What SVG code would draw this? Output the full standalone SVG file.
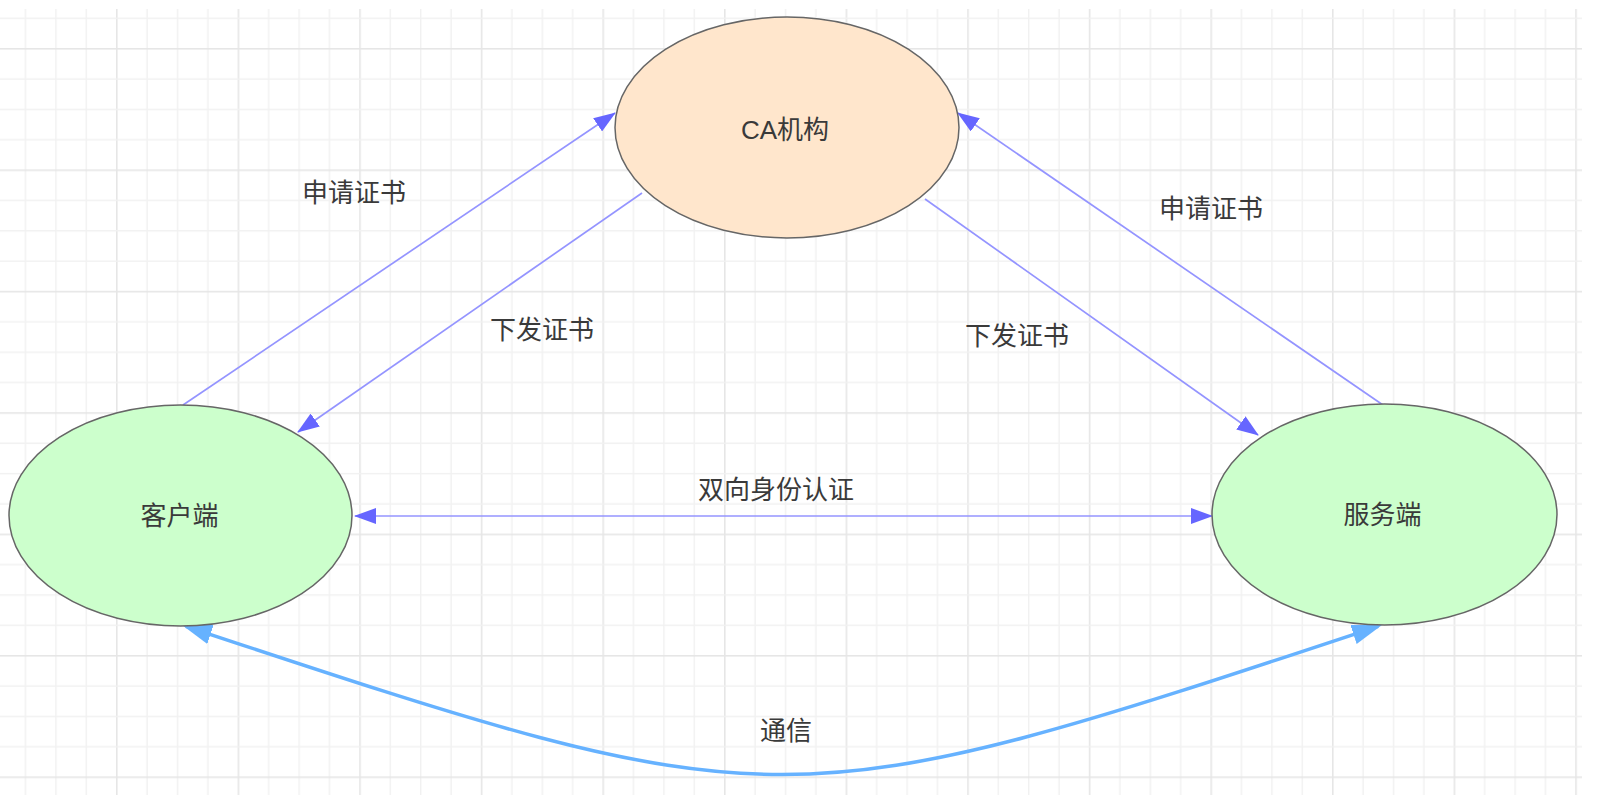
<svg xmlns="http://www.w3.org/2000/svg" width="1597" height="795" viewBox="0 0 1597 795">
  <style>
    .node { stroke: #666666; stroke-width: 1.5; }
    .ca { fill: #ffe6cc; }
    .green { fill: #ccffcc; }
    .label { font-family: 'Liberation Sans', 'Noto Sans CJK SC', sans-serif; font-size: 26px; fill: #3a3a3a; text-anchor: middle; dominant-baseline: central; }
    .thin { fill: none; stroke: #9494ff; stroke-width: 1.7; }
    .thick { fill: none; stroke: #66b2ff; stroke-width: 3.5; }
  </style>
  <defs>
    <pattern id="grid" patternUnits="userSpaceOnUse" x="116" y="48" width="121.6" height="121.4">
      <rect x="0" y="0" width="1.6" height="121.4" fill="#e6e6e6"/>
      <rect x="30.4" y="0" width="1.4" height="121.4" fill="#f1f1f1"/>
      <rect x="60.8" y="0" width="1.4" height="121.4" fill="#f1f1f1"/>
      <rect x="91.2" y="0" width="1.4" height="121.4" fill="#f1f1f1"/>
      <rect x="0" y="30.35" width="121.6" height="1.4" fill="#f1f1f1"/>
      <rect x="0" y="60.7" width="121.6" height="1.4" fill="#f1f1f1"/>
      <rect x="0" y="91.05" width="121.6" height="1.4" fill="#f1f1f1"/>
      <rect x="0" y="0" width="121.6" height="1.6" fill="#e6e6e6"/>
    </pattern>
    <marker id="ah" markerUnits="userSpaceOnUse" viewBox="0 0 22 16" markerWidth="22" markerHeight="16" refX="21" refY="8" orient="auto-start-reverse">
      <path d="M0,0 L22,8 L0,16 z" fill="#6666ff"/>
    </marker>
    <marker id="ahb" markerUnits="userSpaceOnUse" viewBox="0 0 30 20" markerWidth="30" markerHeight="20" refX="26" refY="10" orient="auto-start-reverse">
      <path d="M0,0 L30,10 L0,20 z" fill="#66b2ff"/>
    </marker>
  </defs>
  <rect x="0" y="0" width="1597" height="795" fill="#ffffff"/>
  <rect x="0" y="9" width="1582" height="786" fill="url(#grid)"/>

  <g id="connectors">
    <path class="thin" d="M183,405 L615,113" marker-end="url(#ah)"/>
    <path class="thin" d="M642,193 L298,432" marker-end="url(#ah)"/>
    <path class="thin" d="M925,199 L1258,435" marker-end="url(#ah)"/>
    <path class="thin" d="M1383,405 L958,113" marker-end="url(#ah)"/>
    <path class="thin" d="M355,516 L1212,516" marker-start="url(#ah)" marker-end="url(#ah)"/>
    <path class="thick" d="M185.8,626.3 C782,824 782,824 1378.2,626.3" marker-start="url(#ahb)" marker-end="url(#ahb)"/>
    <text class="label" x="354" y="193">申请证书</text>
    <text class="label" x="542" y="330">下发证书</text>
    <text class="label" x="1211" y="209">申请证书</text>
    <text class="label" x="1017" y="336">下发证书</text>
    <text class="label" x="776" y="490">双向身份认证</text>
    <text class="label" x="786" y="731">通信</text>
  </g>

  <g id="ca">
    <ellipse class="node ca" cx="787" cy="127.5" rx="172" ry="110.5"/>
    <text class="label" x="785" y="130">CA机构</text>
  </g>
  <g id="client">
    <ellipse class="node green" cx="180.5" cy="515.5" rx="171.5" ry="110.5"/>
    <text class="label" x="179.5" y="516">客户端</text>
  </g>
  <g id="server">
    <ellipse class="node green" cx="1384.5" cy="514.5" rx="172.5" ry="110.5"/>
    <text class="label" x="1382.5" y="515">服务端</text>
  </g>
</svg>
